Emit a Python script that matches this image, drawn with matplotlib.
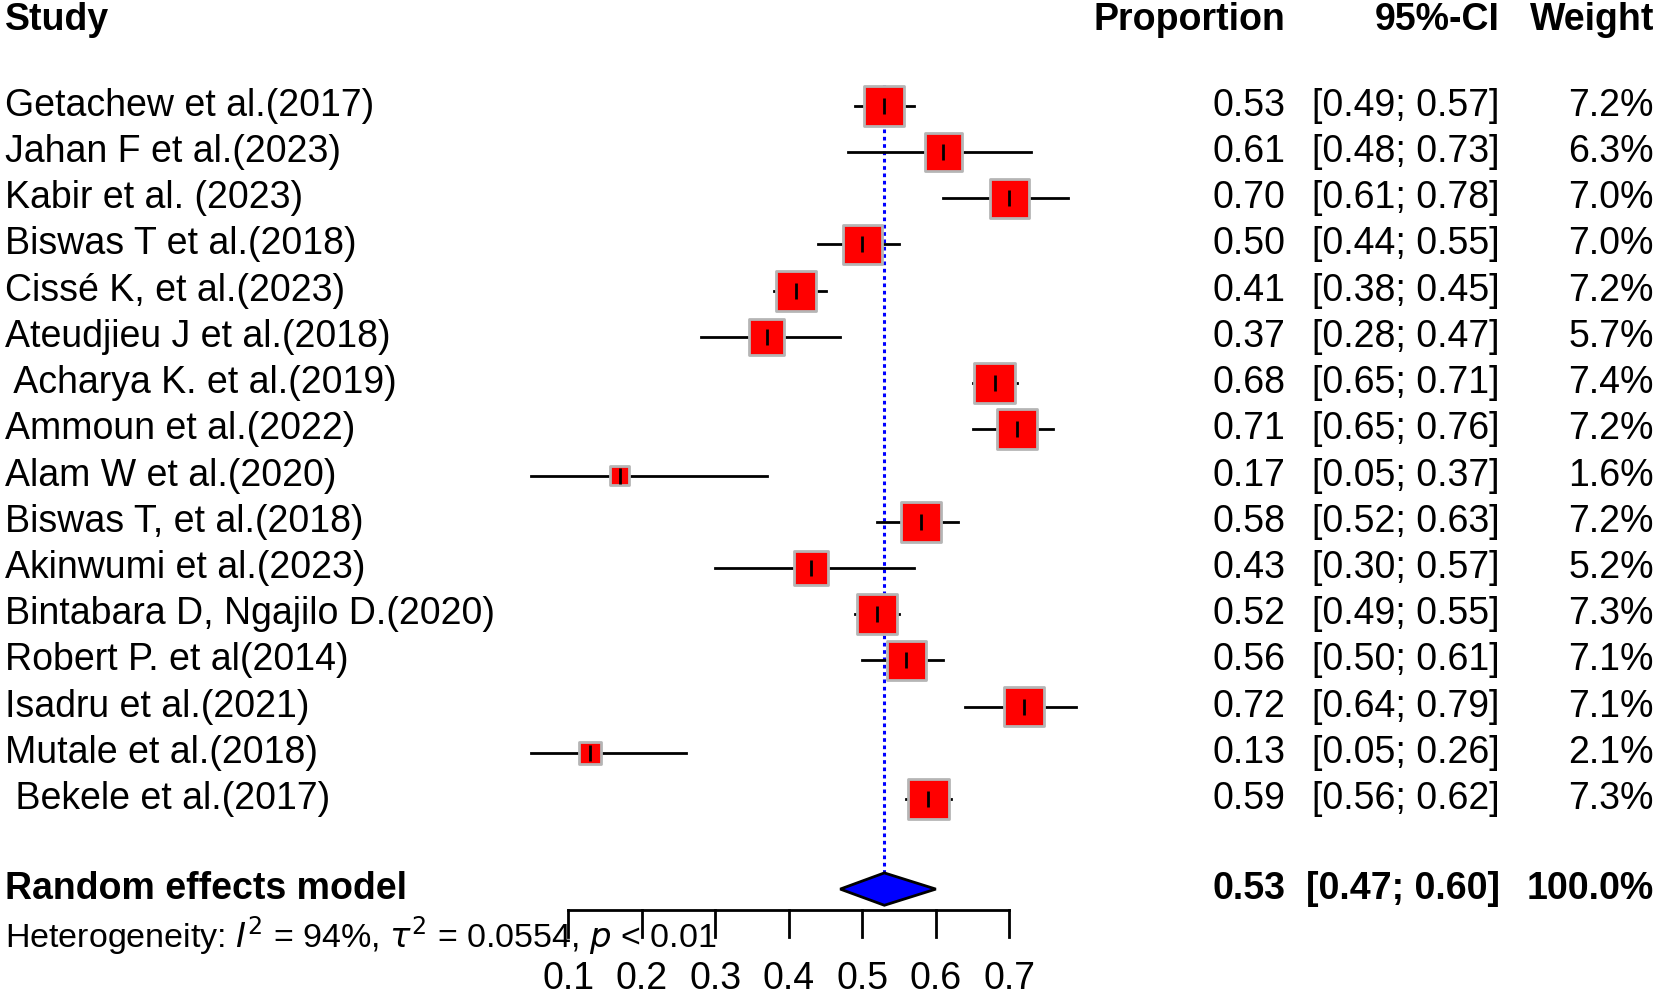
import matplotlib.pyplot as plt
import matplotlib.transforms as mtransforms
from matplotlib.patches import Polygon

# study data
studies = ["Getachew et al.(2017)", "Jahan F et al.(2023)", "Kabir et al. (2023)",
           "Biswas T et al.(2018)", "Cissé K, et al.(2023)", "Ateudjieu J et al.(2018)",
           " Acharya K. et al.(2019)", "Ammoun et al.(2022)", "Alam W et al.(2020)",
           "Biswas T, et al.(2018)", "Akinwumi et al.(2023)", "Bintabara D, Ngajilo D.(2020)",
           "Robert P. et al(2014)", "Isadru et al.(2021)", "Mutale et al.(2018)",
           " Bekele et al.(2017)"]
prop = [0.53, 0.61, 0.70, 0.50, 0.41, 0.37, 0.68, 0.71, 0.17, 0.58, 0.43, 0.52, 0.56, 0.72, 0.13, 0.59]
lower = [0.49, 0.48, 0.61, 0.44, 0.38, 0.28, 0.65, 0.65, 0.05, 0.52, 0.30, 0.49, 0.50, 0.64, 0.05, 0.56]
upper = [0.57, 0.73, 0.78, 0.55, 0.45, 0.47, 0.71, 0.76, 0.37, 0.63, 0.57, 0.55, 0.61, 0.79, 0.26, 0.62]
weight = [7.2, 6.3, 7.0, 7.0, 7.2, 5.7, 7.4, 7.2, 1.6, 7.2, 5.2, 7.3, 7.1, 7.1, 2.1, 7.3]

re_est, re_low, re_up = 0.53, 0.47, 0.60
ticks = [0.1, 0.2, 0.3, 0.4, 0.5, 0.6, 0.7]

plt.rcParams['font.family'] = ['Liberation Sans', 'DejaVu Sans']
FS = 27

fig = plt.figure(figsize=(16.59, 10), dpi=100)
ax = fig.add_axes([0, 0, 1, 1])
ax.set_xlim(-0.6727, 1.5835)
ax.set_ylim(19.35, -2.29)
ax.axis('off')

rows = list(range(len(studies)))
re_row = 16.95

# reference line at pooled estimate
ax.plot([re_est, re_est], [-0.45, re_row - 0.35], color='blue', ls=(0, (1.2, 1.2)), lw=2.2, zorder=1)

# CI lines, squares, centre ticks
for i in rows:
    ax.plot([lower[i], upper[i]], [i, i], color='black', lw=2.0, zorder=2)
ax.scatter(prop, rows, s=[114 * w for w in weight], marker='s', color='red',
           edgecolor='#b5b5b5', linewidth=2.0, zorder=3)
ax.scatter(prop, rows, s=130, marker='|', color='black', linewidth=2.0, zorder=4)

# diamond for random effects
dh = 0.35
ax.add_patch(Polygon([[re_low, re_row], [re_est, re_row - dh], [re_up, re_row], [re_est, re_row + dh]],
                     closed=True, facecolor='blue', edgecolor='black', lw=2.0, zorder=3))

# x axis
ax_y = 17.4
ax.plot([ticks[0], ticks[-1]], [ax_y, ax_y], color='black', lw=2.0)
for t in ticks:
    ax.plot([t, t], [ax_y, ax_y + 0.58], color='black', lw=2.0)
    ax.text(t, 18.9, f"{t:.1f}", ha='center', va='center', fontsize=FS)

trans = mtransforms.blended_transform_factory(ax.transAxes, ax.transData)
cx_prop, cx_ci, cx_w = 0.775, 0.904, 0.997

# headers
hy = -1.85
ax.text(0.003, hy, "Study", transform=trans, fontsize=FS, fontweight='bold', va='center')
ax.text(cx_prop, hy, "Proportion", transform=trans, fontsize=FS, fontweight='bold', va='center', ha='right')
ax.text(cx_ci, hy, "95%-CI", transform=trans, fontsize=FS, fontweight='bold', va='center', ha='right')
ax.text(cx_w, hy, "Weight", transform=trans, fontsize=FS, fontweight='bold', va='center', ha='right')

for i in rows:
    ax.text(0.003, i, studies[i], transform=trans, fontsize=FS, va='center')
    ax.text(cx_prop, i, f"{prop[i]:.2f}", transform=trans, fontsize=FS, va='center', ha='right')
    ax.text(cx_ci, i, f"[{lower[i]:.2f}; {upper[i]:.2f}]", transform=trans, fontsize=FS, va='center', ha='right')
    ax.text(cx_w, i, f"{weight[i]:.1f}%", transform=trans, fontsize=FS, va='center', ha='right')

ax.text(0.003, re_row, "Random effects model", transform=trans, fontsize=FS, fontweight='bold', va='center')
ax.text(cx_prop, re_row, f"{re_est:.2f}", transform=trans, fontsize=FS, fontweight='bold', va='center', ha='right')
ax.text(cx_ci, re_row, f"[{re_low:.2f}; {re_up:.2f}]", transform=trans, fontsize=FS, fontweight='bold', va='center', ha='right')
ax.text(cx_w, re_row, "100.0%", transform=trans, fontsize=FS, fontweight='bold', va='center', ha='right')

ax.text(0.003, 17.95, r"Heterogeneity: $I^2$ = 94%, $\tau^2$ = 0.0554, $p$ < 0.01",
        transform=trans, fontsize=24.5, va='center')

fig.savefig("out.png", dpi=100)
